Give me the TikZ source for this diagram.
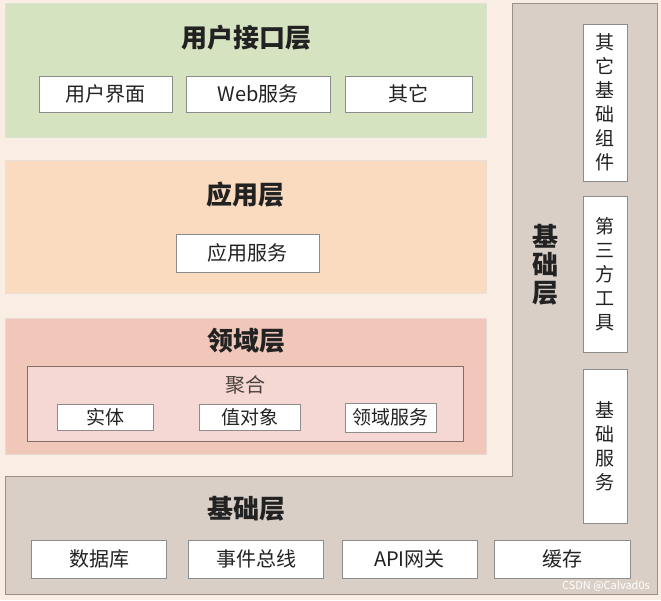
\documentclass[tikz,border=0pt]{standalone}
\usepackage{fontspec}
\setmainfont{Noto Sans CJK SC}
\definecolor{bgc}{HTML}{FAEDE3}
\definecolor{greenc}{HTML}{D6E3C1}
\definecolor{orangec}{HTML}{FADBC0}
\definecolor{pinkc}{HTML}{F0C7B9}
\definecolor{pinkin}{HTML}{F5D8D4}
\definecolor{greyc}{HTML}{D9CFC6}
\definecolor{edgec}{HTML}{8C8C8C}
\definecolor{txtc}{HTML}{222222}
\tikzset{
  layer/.style={draw=#1!80!black!40!white, line width=1pt, inner sep=0pt},
  itembox/.style={draw=edgec, fill=white, line width=0.9pt, inner sep=0pt, text=txtc, font=\fontsize{20}{22}\selectfont},
  smallbox/.style={itembox, font=\fontsize{19}{21}\selectfont},
  vbox/.style={draw=edgec, fill=white, line width=0.9pt, inner sep=0pt, text=txtc, align=center, font=\fontsize{19}{24}\selectfont, minimum width=44pt},
  ltitle/.style={text=txtc, font=\bfseries\fontsize{26}{28}\selectfont, inner sep=0pt},
}
\begin{document}
\begin{tikzpicture}[x=1pt,y=-1pt]
\fill[bgc] (0,0) rectangle (661,600);
\useasboundingbox (0,0) rectangle (661,600);
% foundation L-shape
\draw[fill=greyc, draw=greyc!70!black, line width=1pt] (5,476) -- (512,476) -- (512,3) -- (657,3) -- (657,594) -- (5,594) -- cycle;
\coordinate (Lcorner) at (512,476);
% layers
\node[layer=greenc, fill=greenc, minimum width=481pt, minimum height=134pt] (ui) at (245.5,70) {};
\node[layer=orangec, fill=orangec, minimum width=481pt, minimum height=133pt] (app) at (245.5,226.5) {};
\node[layer=pinkc, fill=pinkc, minimum width=481pt, minimum height=136pt] (dom) at (245.5,386) {};
\node[draw=pinkc!55!black, fill=pinkin, line width=1pt, minimum width=436pt, minimum height=75pt, inner sep=0pt] (agg) at (245.5,403.5) {};
% titles
\node[ltitle] (tui) at (246,38) {用户接口层};
\node[ltitle] (tapp) at (245,195) {应用层};
\node[ltitle] (tdom) at (246,341) {领域层};
\node[ltitle] (tinf) at (246,509) {基础层};
\node[ltitle, align=center, font=\bfseries\fontsize{26}{28}\selectfont] (tinfv) at (545,265) {基\\础\\层};
\node[text=txtc!80!pinkc, font=\fontsize{20}{22}\selectfont, inner sep=0pt] (tagg) at (245,385) {聚合};
% UI items
\node[itembox, minimum width=133pt, minimum height=36pt] (ui1) at (105.5,94) {用户界面};
\node[itembox, minimum width=144pt, minimum height=36pt] (ui2) at (258,94) {Web服务};
\node[itembox, minimum width=127pt, minimum height=36pt] (ui3) at (408.5,94) {其它};
% app item
\node[itembox, minimum width=143pt, minimum height=38pt] (ap1) at (247.5,253) {应用服务};
% domain items
\node[smallbox, minimum width=96pt, minimum height=26pt] (d1) at (105,417.5) {实体};
\node[smallbox, minimum width=101pt, minimum height=26pt] (d2) at (249.5,417.5) {值对象};
\node[smallbox, minimum width=91pt, minimum height=29pt] (d3) at (390.5,417.5) {领域服务};
% infrastructure bottom items
\node[itembox, minimum width=135pt, minimum height=38pt] (b1) at (99,559) {数据库};
\node[itembox, minimum width=135pt, minimum height=38pt] (b2) at (256,559) {事件总线};
\node[itembox, minimum width=135pt, minimum height=38pt] (b3) at (409.5,559) {API网关};
\node[itembox, minimum width=136pt, minimum height=38pt] (b4) at (562,559) {缓存};
% infrastructure vertical items
\node[vbox, minimum height=157pt] (v1) at (605,102.5) {其\\它\\基\\础\\组\\件};
\node[vbox, minimum height=156pt] (v2) at (605,274) {第\\三\\方\\工\\具};
\node[vbox, minimum height=154pt] (v3) at (605,446) {基\\础\\服\\务};
% watermark
\node[text=white, font=\fontsize{11}{12}\selectfont, inner sep=0pt, anchor=east] (wm) at (650,586) {CSDN @Calvad0s};
\end{tikzpicture}
\end{document}
